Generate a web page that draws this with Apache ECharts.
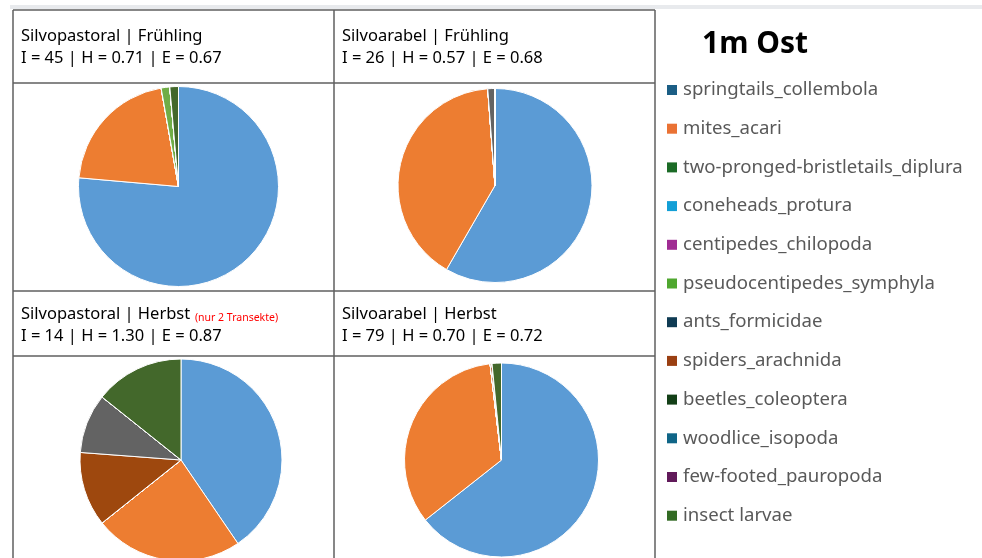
<!DOCTYPE html>
<html>
<head>
<meta charset="utf-8">
<script src="https://cdn.jsdelivr.net/npm/echarts@6/dist/echarts.min.js"></script>
<style>
  html, body { margin: 0; padding: 0; background: #fff; }
  #chart { width: 982px; height: 558px; }
</style>
</head>
<body>
<div id="chart"></div>
<script>
// Taxa shown in every pie (legend order)
const categories = [
  'springtails_collembola', 'mites_acari', 'two-pronged-bristletails_diplura',
  'coneheads_protura', 'centipedes_chilopoda', 'pseudocentipedes_symphyla',
  'ants_formicidae', 'spiders_arachnida', 'beetles_coleoptera',
  'woodlice_isopoda', 'few-footed_pauropoda', 'insect larvae'
];

// Counts per taxon for each plot / season
const pastoralSpring = [55, 15, 0, 0, 0, 1, 0, 0, 0, 0, 0, 1];
const arableSpring   = [49, 34, 0, 0, 0, 0, 0, 0, 1, 0, 0, 0];
const pastoralAutumn = [17, 10, 0, 0, 0, 0, 0, 5, 4, 0, 0, 6];
const arableAutumn   = [206, 108, 0, 0, 0, 0, 0, 1, 0, 0, 0, 5];

// Panel headings: plot | season, then diversity indices
const panelTitles = [
  'Silvopastoral | Frühling', 'Silvoarabel | Frühling',
  'Silvopastoral | Herbst', 'Silvoarabel | Herbst'
];
const panelStats = [
  'I = 45 | H = 0.71 | E = 0.67', 'I = 26 | H = 0.57 | E = 0.68',
  'I = 14 | H = 1.30 | E = 0.87', 'I = 79 | H = 0.70 | E = 0.72'
];
const panelNotes = ['', '', '(nur 2 Transekte)', ''];

// Slice colours and legend swatch colours
const pieColors = [
  '#5B9BD5', '#ED7D31', '#A5A5A5', '#FFC000', '#4472C4', '#70AD47',
  '#255E91', '#9E480E', '#636363', '#997300', '#264478', '#43682B'
];
const legendColors = [
  '#1B5E85', '#EA7234', '#1B6B26', '#139FD6', '#A02C93', '#4FA72F',
  '#0F3B53', '#9A3F12', '#133F17', '#0F6587', '#611A5A', '#336B24'
];

const font = '"Noto Sans", "Open Sans", sans-serif';
const chart = echarts.init(document.getElementById('chart'), null, { renderer: 'canvas' });

function pieSeries(values, center, radius) {
  return {
    type: 'pie',
    center: center,
    radius: radius,
    startAngle: 90,
    clockwise: true,
    silent: true,
    label: { show: false },
    labelLine: { show: false },
    emphasis: { disabled: true },
    itemStyle: { borderColor: '#ffffff', borderWidth: 1 },
    data: categories.map((name, i) => ({
      name: name,
      value: values[i],
      itemStyle: { color: pieColors[i] }
    }))
  };
}

const headerPos = [[21, 25], [342, 25], [21, 303], [342, 303]];
const titles = panelTitles.map((t, i) => ({
  left: headerPos[i][0],
  top: headerPos[i][1],
  padding: 0,
  text: '{m|' + t + '}' + (panelNotes[i] ? ' {r|' + panelNotes[i] + '}' : '') + '\n{m|' + panelStats[i] + '}',
  textStyle: {
    fontFamily: font,
    fontWeight: 'normal',
    rich: {
      m: { fontFamily: font, fontSize: 16.5, lineHeight: 22, color: '#000000' },
      r: { fontFamily: font, fontSize: 10.5, lineHeight: 22, color: '#FF0000', verticalAlign: 'bottom', padding: [0, 0, 1, 0] }
    }
  }
}));
titles.push({
  left: 702,
  top: 29,
  padding: 0,
  text: '1m Ost',
  textStyle: { fontFamily: font, fontSize: 30, fontWeight: 'bold', color: '#000000' }
});

const lineStyle = { stroke: '#5F5F5F', lineWidth: 1.5 };
const gridLines = [
  [13, 10, 655, 10], [13, 83, 655, 83], [13, 291, 655, 291], [13, 356, 655, 356],
  [13, 10, 13, 558], [334, 10, 334, 558], [655, 10, 655, 558]
];

chart.setOption({
  backgroundColor: '#ffffff',
  animation: false,
  title: titles,
  legend: {
    orient: 'vertical',
    left: 667,
    top: 80,
    padding: 0,
    icon: 'rect',
    itemWidth: 10,
    itemHeight: 10,
    itemGap: 18.7,
    selectedMode: false,
    textStyle: { fontFamily: font, fontSize: 18.6, lineHeight: 20, color: '#595959', padding: [0, 0, 0, 1] },
    data: categories.map((name, i) => ({
      name: name,
      itemStyle: { color: legendColors[i], borderWidth: 0 }
    }))
  },
  graphic: [
    { type: 'rect', shape: { x: 10, y: 5, width: 972, height: 4 }, style: { fill: '#E8EAED' }, silent: true }
  ].concat(gridLines.map(l => ({
    type: 'line',
    silent: true,
    shape: { x1: l[0], y1: l[1], x2: l[2], y2: l[3] },
    style: lineStyle
  }))),
  series: [
    pieSeries(pastoralSpring, [178.5, 186.5], 100),
    pieSeries(arableSpring, [495, 185.5], 97),
    pieSeries(pastoralAutumn, [181, 460], 101),
    pieSeries(arableAutumn, [501.5, 460], 97)
  ]
});
</script>
</body>
</html>
